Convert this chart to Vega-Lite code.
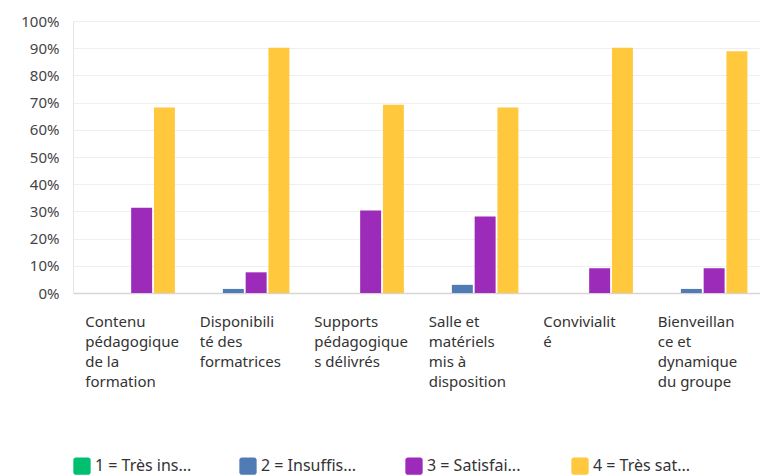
{
  "$schema": "https://vega.github.io/schema/vega-lite/v6.json",
  "width": 687,
  "height": 272,
  "padding": {"left": 20, "top": 14, "right": 0, "bottom": 0},
  "background": "white",
  "config": {"view": {"stroke": null}, "font": "Noto Sans"},
  "data": {"values": [
    {"question": "Contenu pédagogique de la formation", "rating": "1 = Très insatisfait", "pct": 0},
    {"question": "Contenu pédagogique de la formation", "rating": "2 = Insuffisant", "pct": 0},
    {"question": "Contenu pédagogique de la formation", "rating": "3 = Satisfaisant", "pct": 31.3},
    {"question": "Contenu pédagogique de la formation", "rating": "4 = Très satisfait", "pct": 68.2},
    {"question": "Disponibilité des formatrices", "rating": "1 = Très insatisfait", "pct": 0},
    {"question": "Disponibilité des formatrices", "rating": "2 = Insuffisant", "pct": 1.5},
    {"question": "Disponibilité des formatrices", "rating": "3 = Satisfaisant", "pct": 7.6},
    {"question": "Disponibilité des formatrices", "rating": "4 = Très satisfait", "pct": 90.2},
    {"question": "Supports pédagogiques délivrés", "rating": "1 = Très insatisfait", "pct": 0},
    {"question": "Supports pédagogiques délivrés", "rating": "2 = Insuffisant", "pct": 0},
    {"question": "Supports pédagogiques délivrés", "rating": "3 = Satisfaisant", "pct": 30.3},
    {"question": "Supports pédagogiques délivrés", "rating": "4 = Très satisfait", "pct": 69.2},
    {"question": "Salle et matériels mis à disposition", "rating": "1 = Très insatisfait", "pct": 0},
    {"question": "Salle et matériels mis à disposition", "rating": "2 = Insuffisant", "pct": 3.0},
    {"question": "Salle et matériels mis à disposition", "rating": "3 = Satisfaisant", "pct": 28.1},
    {"question": "Salle et matériels mis à disposition", "rating": "4 = Très satisfait", "pct": 68.2},
    {"question": "Convivialité", "rating": "1 = Très insatisfait", "pct": 0},
    {"question": "Convivialité", "rating": "2 = Insuffisant", "pct": 0},
    {"question": "Convivialité", "rating": "3 = Satisfaisant", "pct": 9.1},
    {"question": "Convivialité", "rating": "4 = Très satisfait", "pct": 90.2},
    {"question": "Bienveillance et dynamique du groupe", "rating": "1 = Très insatisfait", "pct": 0},
    {"question": "Bienveillance et dynamique du groupe", "rating": "2 = Insuffisant", "pct": 1.5},
    {"question": "Bienveillance et dynamique du groupe", "rating": "3 = Satisfaisant", "pct": 9.1},
    {"question": "Bienveillance et dynamique du groupe", "rating": "4 = Très satisfait", "pct": 88.9}
  ]},
  "mark": {"type": "bar"},
  "encoding": {
    "x": {
      "field": "question", "type": "nominal", "sort": null,
      "scale": {"paddingInner": 0.22, "paddingOuter": 0.11},
      "axis": {
        "title": null, "labelAngle": 0, "labelAlign": "left", "labelBaseline": "top",
        "labelOffset": -45, "labelPadding": 21, "labelFontSize": 15, "labelColor": "#333333",
        "labelLineHeight": 20, "labelLimit": 200,
        "ticks": false, "domainColor": "#d6d6d6", "domainWidth": 1.5,
        "labelExpr": "datum.value == 'Contenu pédagogique de la formation' ? ['Contenu','pédagogique','de la','formation'] : datum.value == 'Disponibilité des formatrices' ? ['Disponibili','té des','formatrices'] : datum.value == 'Supports pédagogiques délivrés' ? ['Supports','pédagogique','s délivrés'] : datum.value == 'Salle et matériels mis à disposition' ? ['Salle et','matériels','mis à','disposition'] : datum.value == 'Convivialité' ? ['Convivialit','é'] : ['Bienveillan','ce et','dynamique','du groupe']"
      }
    },
    "xOffset": {"field": "rating", "type": "nominal", "scale": {"paddingInner": 0.08}},
    "y": {
      "field": "pct", "type": "quantitative",
      "scale": {"domain": [0, 100], "nice": false},
      "axis": {
        "title": null, "values": [0,10,20,30,40,50,60,70,80,90,100],
        "labelExpr": "datum.value + '%'", "labelFontSize": 15, "labelColor": "#444444",
        "labelPadding": 14, "ticks": false, "domainColor": "#e6e6e6",
        "gridColor": "#efefef", "gridWidth": 1
      }
    },
    "color": {
      "field": "rating", "type": "nominal",
      "scale": {
        "domain": ["1 = Très insatisfait", "2 = Insuffisant", "3 = Satisfaisant", "4 = Très satisfait"],
        "range": ["#00bf6f", "#507cb6", "#9c2bb9", "#ffc83d"]
      },
      "legend": {
        "title": null, "orient": "none", "legendX": 0, "legendY": 436,
        "direction": "horizontal", "columns": 4, "gridAlign": "all", "columnPadding": 46,
        "labelExpr": "substring(datum.label, 0, 12) + '...'",
        "labelFontSize": 16, "labelColor": "#333333", "labelOffset": 4,
        "symbolType": "M-0.7,-1 H0.7 A0.3,0.3 0 0 1 1,-0.7 V0.7 A0.3,0.3 0 0 1 0.7,1 H-0.7 A0.3,0.3 0 0 1 -1,0.7 V-0.7 A0.3,0.3 0 0 1 -0.7,-1 Z",
        "symbolSize": 300, "symbolStrokeWidth": 0, "symbolOpacity": 1
      }
    }
  }
}
